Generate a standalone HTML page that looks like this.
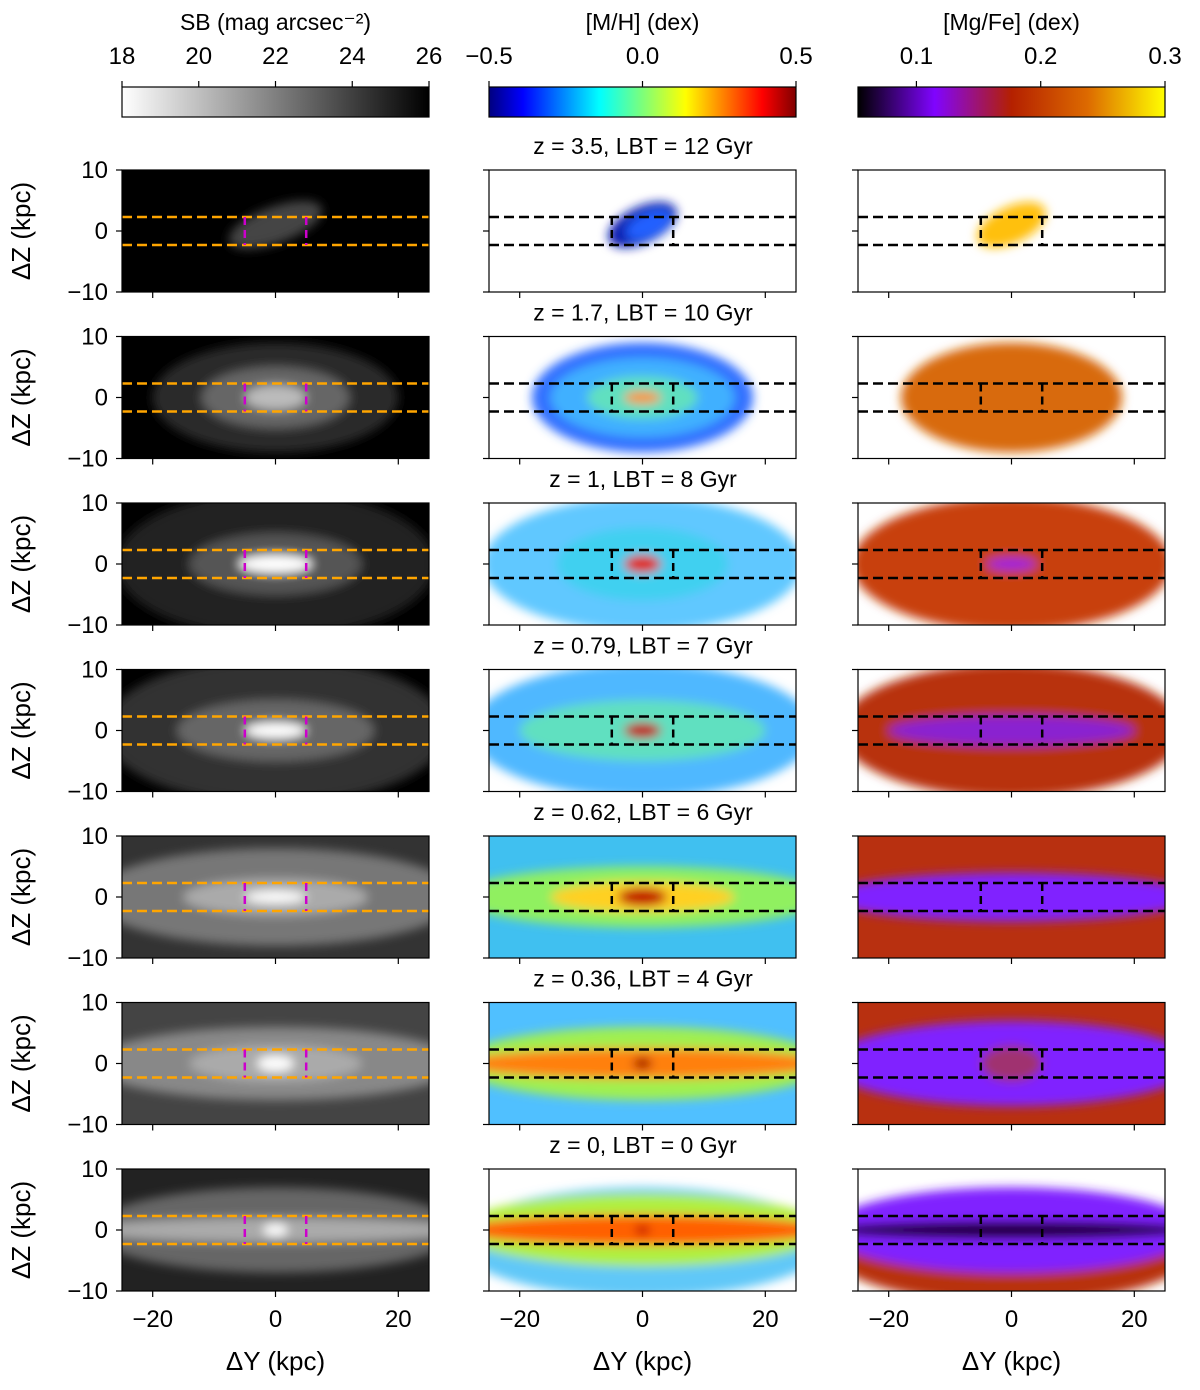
<!DOCTYPE html>
<html><head><meta charset="utf-8"><style>
body{margin:0;background:#fff;}
svg{display:block;font-family:"Liberation Sans","DejaVu Sans",sans-serif;}
</style></head><body>
<svg id="fig" width="1200" height="1390" viewBox="0 0 1200 1390" xmlns="http://www.w3.org/2000/svg">
<defs>
<filter id="blur" x="-50%" y="-50%" width="200%" height="200%"><feGaussianBlur stdDeviation="5"/></filter>
<linearGradient id="cm-gray" x1="0" x2="1"><stop offset="0" stop-color="#fff"/><stop offset="1" stop-color="#000"/></linearGradient>
<linearGradient id="cm-jet" x1="0" x2="1">
<stop offset="0" stop-color="#00007f"/><stop offset="0.11" stop-color="#0000ff"/><stop offset="0.36" stop-color="#00ffff"/>
<stop offset="0.5" stop-color="#7dff7a"/><stop offset="0.64" stop-color="#ffff00"/><stop offset="0.89" stop-color="#ff0000"/><stop offset="1" stop-color="#7f0000"/></linearGradient>
<linearGradient id="cm-gnu" x1="0" x2="1">
<stop offset="0" stop-color="#000"/><stop offset="0.25" stop-color="#8004ff"/><stop offset="0.5" stop-color="#b42000"/>
<stop offset="0.75" stop-color="#dd6b00"/><stop offset="1" stop-color="#ffff00"/></linearGradient>
</defs>
</svg>
<script>
const rowTitles=["z = 3.5, LBT = 12 Gyr","z = 1.7, LBT = 10 Gyr","z = 1, LBT = 8 Gyr","z = 0.79, LBT = 7 Gyr","z = 0.62, LBT = 6 Gyr","z = 0.36, LBT = 4 Gyr","z = 0, LBT = 0 Gyr"];
const hLines=[-2.3,2.3];
const vLines=[-5,5];
const xTicks=[-20,0,20];
const yTicks=[-10,0,10];
const sbTicks=[18,20,22,24,26];
const mhTicks=[-0.5,0.0,0.5];
const mgTicks=[0.1,0.2,0.3];
const bgs=[["#000","#000","#000","#000","#333","#444","#222"],
["#fff","#fff","#fff","#fff","#40c0f0","#50c0ff","#fff"],
["#fff","#fff","#fff","#fff","#b83010","#b83010","#fff"]];
const layers=[
[[[0,1,8,3,"#444",-20]],
 [[0,0,20,9,"#2a2a2a",0],[0,0,12,5,"#666",0],[0,0,5,2,"#bbb",0]],
 [[0,0,26,12,"#222",0],[0,0,14,5,"#555",0],[0,0,6,1.5,"#fff",0]],
 [[0,0,28,12,"#333",0],[0,0,16,5,"#666",0],[0,0,5,1.3,"#fff",0]],
 [[0,0,30,8,"#777",0],[0,0,15,3,"#aaa",0],[0,0,5,1,"#fff",0]],
 [[0,0,30,6,"#888",0],[0,0,14,3,"#aaa",0],[0,0,3,1.3,"#fff",0]],
 [[0,0,30,7,"#666",0],[0,0,30,2,"#aaa",0],[0,0,2,1,"#fff",0]]],
[[[0,1,6,3,"#0a1ab0",-25],[1,1,4,2,"#2060ff",-25]],
 [[0,0,18,9,"#3070ff",0],[0,0,15,6.5,"#40b0ff",0],[0,0,9,3.5,"#60e0c0",0],[0,0,3,1,"#ff9020",0]],
 [[0,0,26,11,"#60c8ff",0],[0,0,14,6,"#40d0f0",0],[0,0,3,1.5,"#e02000",0]],
 [[0,0,28,11,"#50b8ff",0],[0,0,20,5,"#60e0c0",0],[0,0,3,1.3,"#c00000",0]],
 [[0,0,30,5,"#90f060",0],[0,0,15,2.5,"#ffd020",0],[0,0,4,1.5,"#c00000",0]],
 [[0,0,30,6,"#a0f050",0],[0,0,30,2.5,"#ff8010",0],[0,0,1.5,1,"#a00000",0]],
 [[0,-2,30,9,"#60c8f8",0],[0,0,30,6,"#b0f040",0],[0,0,30,2.5,"#ff6000",0],[0,0,1.2,0.8,"#c00000",0]]],
[[[0,1,6,3,"#ffc010",-25]],
 [[0,0,18,9,"#d86a10",0]],
 [[0,0,26,11,"#c84010",0],[0,0,4,1,"#a020e0",0]],
 [[0,0,28,11,"#b83010",0],[0,0,20,2.5,"#8a20d0",0]],
 [[0,0,30,4,"#8020ff",0]],
 [[0,0,30,7,"#8020ff",0],[0,0,5,3,"#a03070",0]],
 [[0,-3,30,9,"#b83010",0],[0,0,30,7,"#8020ff",0],[0,0,30,1.5,"#200040",0]]]];
const colX=[122,489,858], W=307, rowY=[170,336.5,503,669.5,836,1002.5,1169], H=122;
const svg=document.getElementById('fig'), NS="http://www.w3.org/2000/svg";
function el(t,a,p){const e=document.createElementNS(NS,t);for(const k in a)e.setAttribute(k,a[k]);(p||svg).appendChild(e);return e;}
function txt(x,y,s,size,anchor,p){const e=el('text',{x:x,y:y,'font-size':size,'text-anchor':anchor||'middle',fill:'#000'},p);e.textContent=s;return e;}
const cbars=[["cm-gray","SB (mag arcsec\u207B\u00B2)",sbTicks,18,26,v=>String(v)],
["cm-jet","[M/H] (dex)",mhTicks,-0.5,0.5,v=>(v<0?"\u2212":"")+Math.abs(v).toFixed(1)],
["cm-gnu","[Mg/Fe] (dex)",mgTicks,0.053,0.3,v=>v.toFixed(1)]];
cbars.forEach((c,i)=>{
 const g=el('g',{});
 
 
 el('rect',{x:colX[i],y:87,width:W,height:30,fill:'url(#'+c[0]+')',stroke:'#000','stroke-width':1.2},g);
 const t=txt(colX[i]+W/2,30,c[1],23,'middle',g);
 
 
 c[2].forEach(v=>{const x=colX[i]+(v-c[3])/(c[4]-c[3])*W;
  el('line',{x1:x,x2:x,y1:87,y2:81,stroke:'#000','stroke-width':1.2},g);
  txt(x,64,c[5](v),24,'middle',g);});
});
for(let r=0;r<7;r++){
 const top=rowY[r];
 const ttl=txt(643,top-16,rowTitles[r],23,'middle');
 
 
 const yl=el('text',{x:0,y:0,'font-size':26,'text-anchor':'middle',transform:`translate(30,${top+H/2}) rotate(-90)`});
 yl.textContent="\u0394Z (kpc)";
 
 
 for(let c=0;c<3;c++){
  const left=colX[c];
  const X=v=>left+(v+25)/50*W, Y=v=>top+(10-v)/20*H;
  const g=el('g',{});
  
  
  const cid='clip'+r+c;
  const cp=el('clipPath',{id:cid},g);el('rect',{x:left,y:top,width:W,height:H},cp);
  const inner=el('g',{'clip-path':'url(#'+cid+')'},g);
  el('rect',{x:left,y:top,width:W,height:H,fill:bgs[c][r]},inner);
  const bl=el('g',{filter:'url(#blur)'},inner);
  layers[c][r].forEach(L=>{
   const e=el('ellipse',{cx:X(L[0]),cy:Y(L[1]),rx:L[2]/50*W,ry:L[3]/20*H,fill:L[4],transform:`rotate(${L[5]} ${X(L[0])} ${Y(L[1])})`},bl);
   
   
  });
  const hc=c==0?'#ffa500':'#000', vc=c==0?'#cc00cc':'#000';
  hLines.forEach(v=>{const l=el('line',{x1:left,x2:left+W,y1:Y(v),y2:Y(v),stroke:hc,'stroke-width':2.5,'stroke-dasharray':'10,5'},inner);
   });
  vLines.forEach(v=>{const l=el('line',{x1:X(v),x2:X(v),y1:Y(hLines[1]),y2:Y(hLines[0]),stroke:vc,'stroke-width':2.5,'stroke-dasharray':'8,5'},inner);
   });
  el('rect',{x:left,y:top,width:W,height:H,fill:'none',stroke:'#000','stroke-width':1.2},g);
  yTicks.forEach(v=>{el('line',{x1:left,x2:left-6,y1:Y(v),y2:Y(v),stroke:'#000','stroke-width':1.2},g);
   if(c==0)txt(left-14,Y(v)+8,(v<0?"\u2212":"")+Math.abs(v),24,'end',g);});
  xTicks.forEach(v=>{el('line',{x1:X(v),x2:X(v),y1:top+H,y2:top+H+6,stroke:'#000','stroke-width':1.2},g);
   if(r==6)txt(X(v),top+H+36,(v<0?"\u2212":"")+Math.abs(v),24,'middle',g);});
  if(r==6){const xl=txt(left+W/2,1370,"\u0394Y (kpc)",26,'middle',g);
   }
 }
}
</script>
</body></html>
